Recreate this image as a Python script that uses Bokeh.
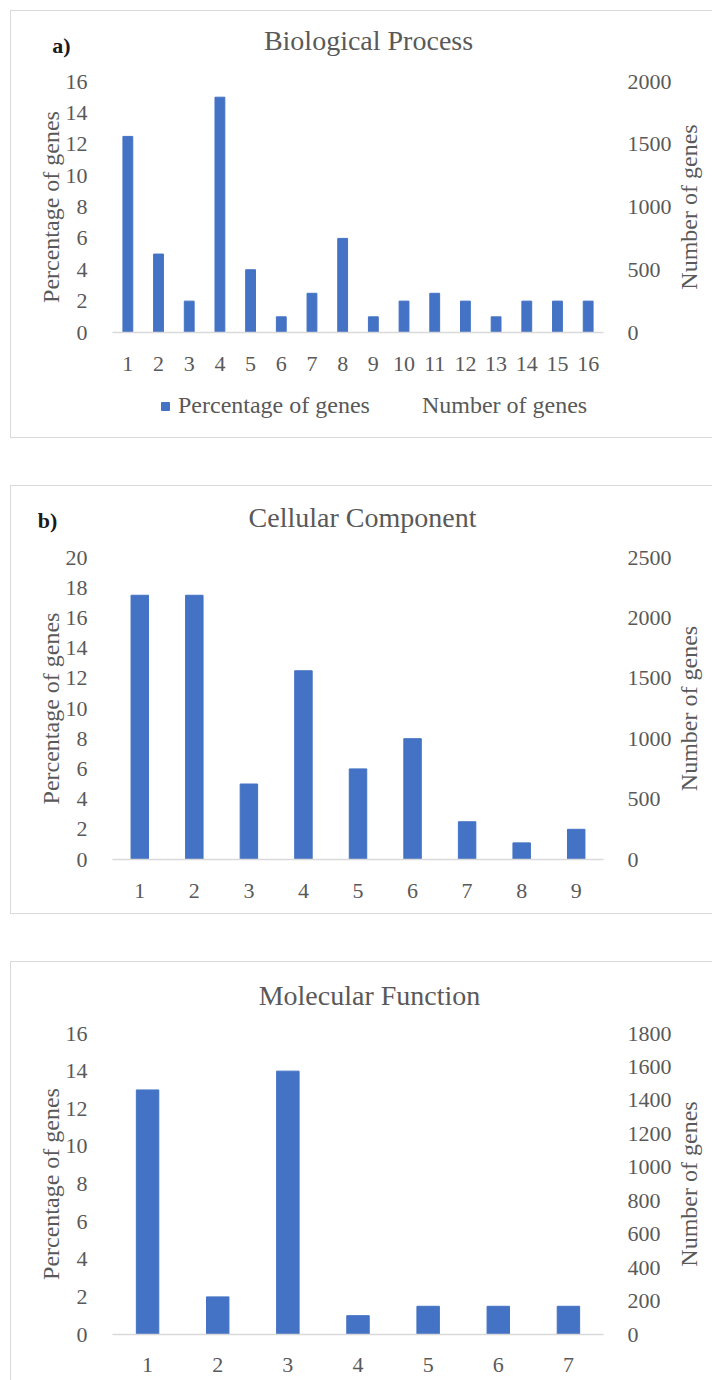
import math
from bokeh.plotting import figure
from bokeh.models import (ColumnDataSource, Range1d, LinearAxis, FixedTicker,
                          Label, Legend, LegendItem)
from bokeh.layouts import column
from bokeh.embed import file_html
from bokeh.resources import INLINE

# ---------------- data ----------------
bp_title = "Biological Process"
bp_categories = list(range(1, 17))
bp_percentage = [12.5, 5, 2, 15, 4, 1, 2.5, 6, 1, 2, 2.5, 2, 1, 2, 2, 2]
bp_left_ticks = [0, 2, 4, 6, 8, 10, 12, 14, 16]
bp_right_ticks = [0, 500, 1000, 1500, 2000]

cc_title = "Cellular Component"
cc_categories = list(range(1, 10))
cc_percentage = [17.5, 17.5, 5, 12.5, 6, 8, 2.5, 1.1, 2]
cc_left_ticks = [0, 2, 4, 6, 8, 10, 12, 14, 16, 18, 20]
cc_right_ticks = [0, 500, 1000, 1500, 2000, 2500]

mf_title = "Molecular Function"
mf_categories = list(range(1, 8))
mf_percentage = [13, 2, 14, 1, 1.5, 1.5, 1.5]
mf_left_ticks = [0, 2, 4, 6, 8, 10, 12, 14, 16]
mf_right_ticks = [0, 200, 400, 600, 800, 1000, 1200, 1400, 1600, 1800]

left_axis_title = "Percentage of genes"
right_axis_title = "Number of genes"
legend_labels = ["Percentage of genes", "Number of genes"]

# ---------------- style / layout ----------------
FONT = "Liberation Serif"
TXT = "#595959"
BAR = "#4472C4"
GRIDC = "#d9d9d9"
FIG_W = 701          # canvas width (figure placed at page x = 11)
PLOT_L = 101         # canvas x of the plot area's left edge
PLOT_W = 491         # plot area width


def make_panel(title, tag, cats, vals, left_ticks, right_ticks, fig_h,
               plot_top, plot_h, title_xy, tag_xy, legend_xy, x_standoff,
               top_margin):
    n = len(cats)
    ymax = left_ticks[-1]
    rmax = right_ticks[-1]
    plot_bot = plot_top + plot_h

    def X(cx):
        return 0.5 + (cx - PLOT_L) / PLOT_W * n

    def Y(cy):
        return ymax * (plot_bot - cy) / plot_h

    p = figure(width=FIG_W, height=fig_h, min_border=0,
               x_range=Range1d(X(0), X(FIG_W)),
               y_range=Range1d(Y(fig_h), Y(0)),
               output_backend="svg", toolbar_location=None, tools="",
               margin=(top_margin, 0, 0, 11),
               styles={"outline": "1px solid #d9d9d9"})
    p.title.visible = False
    p.extra_y_ranges = {"num": Range1d(Y(fig_h) * rmax / ymax,
                                       Y(0) * rmax / ymax)}
    p.outline_line_color = None
    p.xgrid.grid_line_color = None
    p.ygrid.grid_line_color = None
    p.background_fill_color = "white"
    p.border_fill_color = "white"

    src = ColumnDataSource(dict(x=cats, top=vals))
    r_pct = p.vbar(x="x", top="top", width=0.32, source=src,
                   fill_color=BAR, line_color=BAR)
    r_num = p.vbar(x=[], top=[], width=0.32, y_range_name="num",
                   fill_alpha=0, line_alpha=0)

    xa = p.xaxis[0]
    xa.fixed_location = 0
    xa.bounds = (0.5, n + 0.5)
    xa.ticker = FixedTicker(ticks=cats)
    xa.axis_line_color = GRIDC
    xa.axis_line_width = 1.5
    xa.major_tick_line_color = None
    xa.minor_tick_line_color = None
    xa.major_label_standoff = x_standoff
    xa.major_label_text_font = FONT
    xa.major_label_text_font_size = "22px"
    xa.major_label_text_color = TXT

    ya = p.yaxis[0]
    ya.fixed_location = 0.5
    ya.bounds = (0, ymax)
    ya.ticker = FixedTicker(ticks=left_ticks)
    ya.axis_line_color = None
    ya.major_tick_line_color = None
    ya.minor_tick_line_color = None
    ya.major_label_standoff = 19
    ya.major_label_text_font = FONT
    ya.major_label_text_font_size = "22px"
    ya.major_label_text_color = TXT

    ra = LinearAxis(y_range_name="num", ticker=FixedTicker(ticks=right_ticks),
                    fixed_location=n + 0.5, bounds=(0, rmax))
    ra.axis_line_color = None
    ra.major_tick_line_color = None
    ra.minor_tick_line_color = None
    ra.major_label_standoff = 18
    ra.major_label_text_font = FONT
    ra.major_label_text_font_size = "22px"
    ra.major_label_text_color = TXT
    p.add_layout(ra, "right")

    ymid = ymax / 2
    p.add_layout(Label(x=X(title_xy[0]), y=Y(title_xy[1]), text=title,
                       text_font=FONT, text_font_size="28px", text_color=TXT,
                       text_align="center", text_baseline="middle"))
    p.add_layout(Label(x=X(39), y=ymid, text=left_axis_title,
                       angle=math.pi / 2, text_font=FONT,
                       text_font_size="24px", text_color=TXT,
                       text_align="center", text_baseline="middle"))
    p.add_layout(Label(x=X(677), y=ymid, text=right_axis_title,
                       angle=math.pi / 2, text_font=FONT,
                       text_font_size="24px", text_color=TXT,
                       text_align="center", text_baseline="middle"))
    if tag:
        p.add_layout(Label(x=X(tag_xy[0]), y=Y(tag_xy[1]), text=tag,
                           text_font=FONT, text_font_size="22px",
                           text_font_style="bold", text_color="#1a1a1a",
                           text_align="center", text_baseline="middle"))

    if legend_xy:
        lg = Legend(items=[LegendItem(label=legend_labels[0], renderers=[r_pct]),
                           LegendItem(label=legend_labels[1], renderers=[r_num])],
                    orientation="horizontal", location=legend_xy,
                    glyph_width=10, glyph_height=10, label_standoff=8,
                    spacing=34, margin=0, padding=0,
                    border_line_color=None, background_fill_alpha=0,
                    label_text_font=FONT, label_text_font_size="24px",
                    label_text_color=TXT)
        p.add_layout(lg)
    return p


pa = make_panel(bp_title, "a)", bp_categories, bp_percentage, bp_left_ticks,
                bp_right_ticks, 426, 70, 251, (357, 29), (50, 34), (149, 18),
                18, 11)
pb = make_panel(cc_title, "b)", cc_categories, cc_percentage, cc_left_ticks,
                cc_right_ticks, 427, 71, 302, (351, 31), (36, 34), None,
                18, 3)
pc = make_panel(mf_title, None, mf_categories, mf_percentage, mf_left_ticks,
                mf_right_ticks, 418, 71, 301, (358, 33), None, None,
                17, 3)

layout = column(pa, pb, pc, spacing=46)
open("out.html", "w").write(file_html(layout, INLINE))
